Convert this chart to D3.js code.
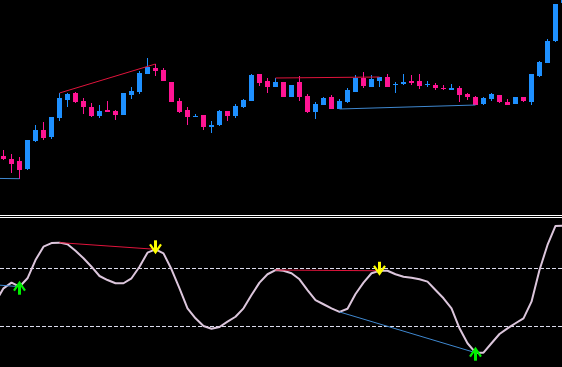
<!DOCTYPE html>
<html><head><meta charset="utf-8">
<script src="https://cdn.jsdelivr.net/npm/d3@7"></script>
<style>html,body{margin:0;padding:0;background:#000;overflow:hidden}svg{display:block}</style>
</head><body>
<svg id="chart" width="562" height="367"></svg>
<script>
// ---- price bars (index 0..70) ----
const opens  = [44,41,39,31,59.3,70,63.3,82.3,100.3,107,99,93,84.3,90,89,85.3,105,108.3,126.3,132,130,118,99,90,83.3,85,73,75,89,84,93,99,126,119,113,118,103,118,104,88,95,103,91,98,108,122,113,119,123,115.5,116,119,119,115.5,115,112,110,112,106,103,96,101,105,98,96,103,98,124,137,159,197];
const highs  = [50,46,43,60,75,78,83,107,107,108,102,97,95,99,90,107,113,129,142,136,132,118,102,93,86,85,79,90,89,96,101,126,126,122,122,118,115,124,106,98,103,105,101,112,125,128,125,123,126,118,126,125,126,119,117,115,116,114,107,104,103,107,105,101,103,103,126,139,161,196,225];
const lows   = [40,27.3,21.3,30.3,58.3,60.3,61.3,79.3,93.3,97,86.3,83.3,82.3,88.3,80.3,85.3,101.3,106.3,126.3,124.3,119.3,98.3,87.3,75.3,83.3,70,67,74,79,82,92,99,114,107,113,103,103,99,87,81,95,91,91,97,108,112,113,113,113,107,115,115,111,113,110,110,110,98,100,95,95,99,97,95,96,98,95,123,137,158,197];
const closes = [41,36.3,30.3,60,70,62.3,83,102,106,98.3,93.3,84.3,89,88.3,85.3,107,109,127,133,129,119.3,98.3,88,83.3,84.3,73,75,89,84,94,100,125,117,113,118,103,115,103,88,96,102,91,99,110,122,114,121,123,113,116.5,118,117,114,116.5,112,111,112,105,103,95,102,106,98,95,103,99,126,138,159,196,220];

// ---- oscillator (index -1..70), levels ----
const oscStart = -1;
const oscValues = [46.8,56.2,60.1,57.3,63.1,75.7,84.9,87.4,87.7,86.6,82.1,76.9,71.1,64.7,61.9,59.7,59.7,63.1,71.1,80.8,83.1,80.3,69.3,56.2,42.4,35.5,30.2,28.3,29.5,33.2,36.6,42.4,51.6,60.1,65.9,68.8,68.3,66.6,62.4,55.0,48.1,45.2,42.4,39.9,42.1,52.3,60.1,66.6,68.3,68.3,65.9,64.2,63.5,62.4,60.8,55.0,49.3,42.4,28.6,18.3,11.8,11.8,18.3,24.7,28.6,32.1,35.5,47.0,68.8,86.1,99.2,99.4];
const oscLevels = [70, 30];

// ---- divergence lines: [fromIndex, fromValue, toIndex, toValue] ----
const priceBearLines = [[7,107,19,136],[34,122,47,123]];
const priceBullLines = [[-4,21.9,2,21.3],[42,91,59,95]];
const oscBearLines   = [[7,87.7,19,83.1],[34,68.8,47,68.3]];
const oscBullLines   = [[-4,59.9,2,57.3],[42,39.9,59,11.8]];

// ---- signal arrows (bar indices) ----
const sellArrows = [19, 47];
const buyArrows  = [2, 59];

const W = 562, H = 367;
const svg = d3.select("#chart");
svg.append("rect").attr("width", W).attr("height", H).attr("fill", "#000");

const x = d3.scaleLinear().domain([0, 70]).range([3.5, 563.5]);
const yP = d3.scaleLinear().domain([0, 200]).range([200, 0]);
const yO = d3.scaleLinear().domain([0, 100]).range([369.8, 224.8]);

const BULL = "#1e90ff", BEAR = "#ff1493";
const RED = "#e0143c", BLUE = "#3f88d0";

// price panel
const pricePanel = svg.append("g");
pricePanel.append("clipPath").attr("id","cp").append("rect").attr("x",0).attr("y",0).attr("width",W).attr("height",214);
const tg = pricePanel.append("g").attr("clip-path","url(#cp)");
const bars = d3.range(opens.length).map(i => ({i, o: opens[i], h: highs[i], l: lows[i], c: closes[i]}));
tg.selectAll("line.wick").data(bars).join("line")
  .attr("x1", d => x(d.i)).attr("x2", d => x(d.i))
  .attr("y1", d => yP(d.h)).attr("y2", d => yP(d.l))
  .attr("stroke", d => d.c >= d.o ? BULL : BEAR).attr("stroke-width", 1)
  .attr("shape-rendering", "crispEdges");
tg.selectAll("rect.body").data(bars).join("rect")
  .attr("x", d => x(d.i) - 2.5).attr("width", 5)
  .attr("y", d => yP(Math.max(d.o, d.c)))
  .attr("height", d => Math.max(1, Math.abs(yP(d.o) - yP(d.c))))
  .attr("fill", d => d.c >= d.o ? BULL : BEAR)
  .attr("shape-rendering", "crispEdges");

function segs(g, data, ys, color) {
  g.selectAll(null).data(data).join("line")
    .attr("x1", d => x(d[0])).attr("y1", d => ys(d[1]))
    .attr("x2", d => x(d[2])).attr("y2", d => ys(d[3]))
    .attr("stroke", color).attr("stroke-width", 1);
}
segs(tg, priceBearLines, yP, RED);
segs(tg, priceBullLines, yP, BLUE);

// separator
svg.selectAll("line.sep").data([215.5, 217.5]).join("line")
  .attr("x1", 0).attr("x2", W).attr("y1", d => d).attr("y2", d => d)
  .attr("stroke", "#ffffff").attr("stroke-width", 1);

// oscillator panel
const og = svg.append("g");
og.selectAll("line.lvl").data(oscLevels).join("line")
  .attr("x1", 0).attr("x2", W)
  .attr("y1", d => Math.round(yO(d)) + 0.5).attr("y2", d => Math.round(yO(d)) + 0.5)
  .attr("stroke", "#dcdcec").attr("stroke-width", 1).attr("stroke-dasharray", "4,2");

og.append("path")
  .datum(oscValues.map((v, k) => [oscStart + k, v]))
  .attr("d", d3.line().x(d => x(d[0])).y(d => yO(d[1])))
  .attr("fill", "none").attr("stroke", "#dcc6dc").attr("stroke-width", 2)
  .attr("stroke-linejoin", "round");

segs(og, oscBearLines, yO, RED);
segs(og, oscBullLines, yO, BLUE);

const oscAt = i => oscValues[i - oscStart];
function arrow(g, i, dir, color) {
  const cx = x(i);
  const tip = dir === 1 ? yO(oscAt(i)) + 4 : yO(oscAt(i)) - 5;
  const a = g.append("g").attr("transform", `translate(${cx},${tip})`);
  a.append("rect").attr("x", -1.5).attr("width", 3)
    .attr("y", dir === 1 ? -13 : 3).attr("height", 10).attr("fill", color);
  a.append("path")
    .attr("d", `M-5.5,${-9*dir} L0,${-1*dir} L5.5,${-9*dir}`)
    .attr("fill", "none").attr("stroke", color).attr("stroke-width", 2.2)
    .attr("stroke-linejoin", "miter");
  a.append("path")
    .attr("d", `M-2,${-4*dir} L0,0 L2,${-4*dir} Z`).attr("fill", color);
}
sellArrows.forEach(i => arrow(og, i, 1, "#ffff00"));
buyArrows.forEach(i => arrow(og, i, -1, "#00ee00"));
</script>
</body></html>
